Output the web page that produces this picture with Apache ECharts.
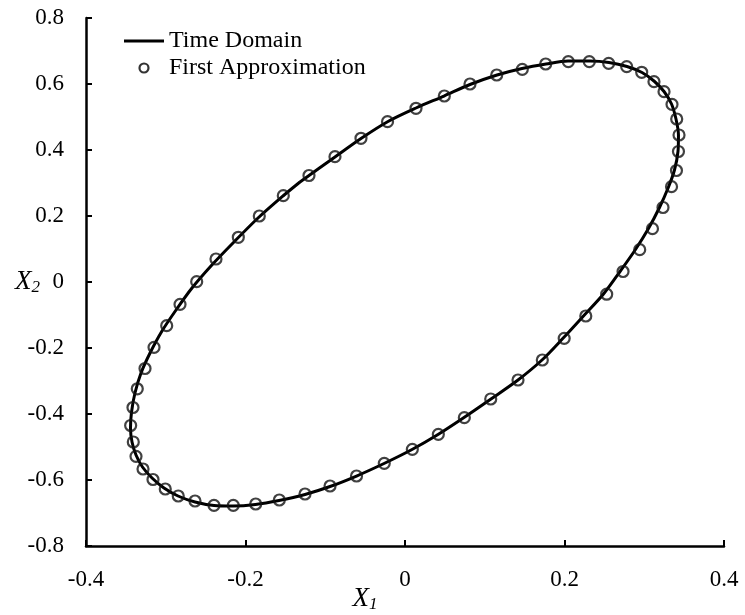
<!DOCTYPE html>
<html>
<head>
<meta charset="utf-8">
<script src="https://cdn.jsdelivr.net/npm/echarts@6/dist/echarts.min.js"></script>
<style>html,body{margin:0;padding:0;background:#fff;}#c{width:745px;height:615px;}</style>
</head>
<body>
<div id="c"></div>
<script>
// Time Domain curve (X1, X2)
const lineX1 = [-0.1317,-0.0878,-0.0552,-0.0213,0.0138,0.0489,0.0815,0.1154,0.1467,0.1768,0.2044,0.2320,0.2558,0.2784,0.2972,0.3122,0.3248,0.3342,0.3398,0.3429,0.3423,0.3379,0.3304,0.3191,0.3053,0.2890,0.2696,0.2489,0.2238,0.1981,0.1718,0.1417,0.1078,0.0740,0.0414,0.0088,-0.0263,-0.0608,-0.0940,-0.1254,-0.1580,-0.1875,-0.2157,-0.2395,-0.2633,-0.2846,-0.3022,-0.3172,-0.3292,-0.3373,-0.3423,-0.3442,-0.3429,-0.3386,-0.3310,-0.3197,-0.3047,-0.2871,-0.2671,-0.2433,-0.2157,-0.1843,-0.1530,-0.1317];
const lineX2 = [0.3030,0.3788,0.4348,0.4864,0.5273,0.5636,0.5985,0.6273,0.6470,0.6606,0.6697,0.6697,0.6652,0.6530,0.6348,0.6091,0.5773,0.5394,0.4939,0.4455,0.3955,0.3394,0.2879,0.2258,0.1621,0.0985,0.0318,-0.0364,-0.1030,-0.1706,-0.2364,-0.2970,-0.3545,-0.4106,-0.4621,-0.5076,-0.5500,-0.5879,-0.6197,-0.6439,-0.6621,-0.6742,-0.6788,-0.6773,-0.6667,-0.6485,-0.6242,-0.5939,-0.5606,-0.5242,-0.4848,-0.4424,-0.3939,-0.3364,-0.2758,-0.2152,-0.1485,-0.0848,-0.0182,0.0485,0.1182,0.1939,0.2606,0.3030];

// First Approximation points (X1, X2)
const approxX1 = [-0.1204,-0.0878,-0.0552,-0.0219,0.0138,0.0493,0.0815,0.1150,0.1471,0.1764,0.2048,0.2311,0.2554,0.2780,0.2968,0.3122,0.3248,0.3348,0.3407,0.3436,0.3429,0.3404,0.3342,0.3235,0.3103,0.2943,0.2734,0.2529,0.2267,0.1996,0.1722,0.1417,0.1075,0.0744,0.0418,0.0092,-0.0260,-0.0608,-0.0940,-0.1254,-0.1576,-0.1872,-0.2153,-0.2395,-0.2633,-0.2843,-0.3006,-0.3160,-0.3285,-0.3373,-0.3407,-0.3440,-0.3411,-0.3357,-0.3260,-0.3147,-0.2988,-0.2821,-0.2612,-0.2370,-0.2090,-0.1827,-0.1526];
const approxX2 = [0.3227,0.3797,0.4355,0.4858,0.5264,0.5636,0.6000,0.6273,0.6445,0.6606,0.6676,0.6676,0.6627,0.6524,0.6355,0.6070,0.5767,0.5385,0.4939,0.4455,0.3955,0.3379,0.2888,0.2258,0.1615,0.0979,0.0318,-0.0370,-0.1030,-0.1706,-0.2364,-0.2970,-0.3545,-0.4112,-0.4615,-0.5070,-0.5494,-0.5879,-0.6182,-0.6424,-0.6606,-0.6727,-0.6767,-0.6767,-0.6636,-0.6485,-0.6273,-0.5985,-0.5667,-0.5282,-0.4848,-0.4348,-0.3803,-0.3236,-0.2621,-0.1979,-0.1324,-0.0676,0.0009,0.0697,0.1355,0.2000,0.2615];

const seriesNames = ['Time Domain', 'First Approximation'];
const xRange = [-0.4, 0.4];
const yRange = [-0.8, 0.8];
const tickStep = 0.2;

const font = '"Liberation Serif","Times New Roman",serif';
const chart = echarts.init(document.getElementById('c'), null, {renderer: 'canvas'});
const nameRich = {
  i: {fontFamily: font, fontStyle: 'italic', fontSize: 27, color: '#000'},
  s: {fontFamily: font, fontStyle: 'italic', fontSize: 17, color: '#000', verticalAlign: 'bottom', padding: [12, 0, 0, 0]}
};
const axisCommon = {
  type: 'value',
  interval: tickStep,
  splitLine: {show: false},
  nameMoveOverlap: false,
  axisLine: {show: true, onZero: false, lineStyle: {color: '#000', width: 2.5}},
  axisTick: {show: true, inside: true, length: 6, lineStyle: {color: '#000', width: 2}},
  axisLabel: {fontFamily: font, fontSize: 23, color: '#000'}
};
chart.setOption({
  animation: false,
  backgroundColor: '#fff',
  grid: {left: 86, right: 21, top: 18, bottom: 69, containLabel: false, outerBoundsMode: 'none'},
  legend: {
    orient: 'vertical', left: 124, top: 29, padding: 0, itemWidth: 40, itemHeight: 9, itemGap: 3,
    textStyle: {fontFamily: font, fontSize: 24, color: '#000'},
    data: [
      {name: seriesNames[0], icon: 'path://M0,0H40V3H0Z', itemStyle: {color: '#000'}},
      {name: seriesNames[1], icon: 'circle', itemStyle: {color: '#fff', borderColor: '#000', borderWidth: 2.2}}
    ]
  },
  xAxis: Object.assign({}, axisCommon, {
    min: xRange[0], max: xRange[1],
    axisLabel: Object.assign({}, axisCommon.axisLabel, {margin: 22}),
    name: '{i|X}{s|1}', nameLocation: 'middle', nameGap: 38,
    nameTextStyle: {rich: nameRich, padding: [0, 80, 0, 0]}
  }),
  yAxis: Object.assign({}, axisCommon, {
    min: yRange[0], max: yRange[1],
    axisLabel: Object.assign({}, axisCommon.axisLabel, {margin: 22}),
    name: '{i|X}{s|2}', nameLocation: 'middle', nameGap: 46, nameRotate: 0,
    nameTextStyle: {rich: nameRich}
  }),
  series: [
    {
      name: seriesNames[0], type: 'line', smooth: 0.3, showSymbol: false, symbol: 'none',
      lineStyle: {color: '#000', width: 3}, itemStyle: {color: '#000'},
      data: lineX1.map((v, i) => [v, lineX2[i]]), z: 2
    },
    {
      name: seriesNames[1], type: 'scatter', symbol: 'circle', symbolSize: 11,
      itemStyle: {color: 'rgba(255,255,255,0)', borderColor: '#111', borderWidth: 2.2},
      data: approxX1.map((v, i) => [v, approxX2[i]]), z: 3
    }
  ]
});
</script>
</body>
</html>
